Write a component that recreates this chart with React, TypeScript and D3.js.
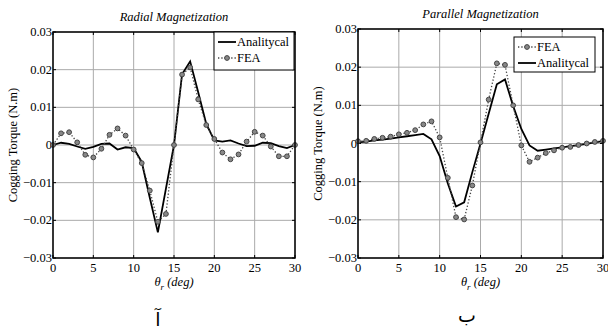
import React from "react";
import * as d3 from "d3";

// angle samples, degrees
const theta = d3.range(0, 31);

// Radial magnetization
const radialFEA = [
  0, 0.0031, 0.0034, 0.0007, -0.0026, -0.0033, -0.001, 0.0027, 0.0044, 0.0025,
  -0.0012, -0.0048, -0.0121, -0.0204, -0.0183, 0, 0.0187, 0.0206, 0.0121, 0.0053,
  0.0016, -0.002, -0.0038, -0.0025, 0.0009, 0.0035, 0.0025, -0.0004, -0.003, -0.003, 0,
];
const radialAnalytical = [
  0, 0.0006, 0.0003, -0.0004, -0.001, -0.0005, 0.0003, 0.0004, -0.0012, -0.0006,
  -0.0008, -0.0045, -0.014, -0.0232, -0.0116, 0, 0.0188, 0.0222, 0.014, 0.0056,
  0.0012, 0.0009, 0.0012, 0.0004, -0.0003, -0.0002, 0.0006, 0.0005, -0.0003, -0.0008, 0,
];

// Parallel magnetization
const parallelFEA = [
  0.0006, 0.0007, 0.0012, 0.0015, 0.0018, 0.0024, 0.0028, 0.0035, 0.005, 0.0058,
  0.0016, -0.009, -0.0193, -0.0199, -0.011, 0.0003, 0.0115, 0.021, 0.0206, 0.01,
  -0.0005, -0.0048, -0.0037, -0.0025, -0.0018, -0.0011, -0.0009, -0.0004, 0, 0.0004, 0.0007,
];
const parallelAnalytical = [
  0.0003, 0.0005, 0.0008, 0.001, 0.0013, 0.0016, 0.0019, 0.0022, 0.0025, 0.0011,
  -0.0033, -0.0105, -0.0165, -0.0154, -0.0075, 0, 0.0078, 0.0155, 0.0168, 0.0098,
  0.0038, -0.0005, -0.0019, -0.0016, -0.0013, -0.001, -0.0007, -0.0004, -0.0001, 0.0003, 0.0006,
];

const xTicks = [0, 5, 10, 15, 20, 25, 30];
const yTicks = [-0.03, -0.02, -0.01, 0, 0.01, 0.02, 0.03];

const FONT = "Liberation Serif, Times New Roman, serif";
const fs = { fontFamily: FONT };

interface IPanel {
  left: number;
  top: number;
  right: number;
  bottom: number;
  title: string;
  titleY: number;
  fea: number[];
  analytical: number[];
  feaFirst: boolean;
  legend: { x: number; y: number; w: number; h: number };
}

const Panel = (p: IPanel) => {
  const x = d3.scaleLinear().domain([0, 30]).range([p.left, p.right]);
  const y = d3.scaleLinear().domain([-0.03, 0.03]).range([p.bottom, p.top]);
  const line = d3
    .line<number>()
    .x((_, i) => x(theta[i]))
    .y((d) => y(d));
  const fmt = (v: number) => (v === 0 ? "0" : d3.format(".2f")(v));

  const entries = p.feaFirst ? ["FEA", "Analitycal"] : ["Analitycal", "FEA"];
  const lg = p.legend;

  return (
    <g>
      <text
        x={(p.left + p.right) / 2}
        y={p.titleY}
        textAnchor="middle"
        fontSize={12.5}
        fontStyle="italic"
        style={fs}
      >
        {p.title}
      </text>
      {/* grid */}
      {xTicks.map((t) => (
        <line key={"gx" + t} x1={x(t)} x2={x(t)} y1={p.top} y2={p.bottom} stroke="#aaa" strokeWidth={1} />
      ))}
      {yTicks.map((t) => (
        <line key={"gy" + t} x1={p.left} x2={p.right} y1={y(t)} y2={y(t)} stroke="#aaa" strokeWidth={1} />
      ))}
      {/* inner ticks */}
      {xTicks.map((t) => (
        <g key={"tx" + t}>
          <line x1={x(t)} x2={x(t)} y1={p.bottom} y2={p.bottom - 3} stroke="#000" />
          <line x1={x(t)} x2={x(t)} y1={p.top} y2={p.top + 3} stroke="#000" />
          <text x={x(t)} y={p.bottom + 14} textAnchor="middle" fontSize={12.5} style={fs}>
            {t}
          </text>
        </g>
      ))}
      {yTicks.map((t) => (
        <g key={"ty" + t}>
          <line x1={p.left} x2={p.left + 3} y1={y(t)} y2={y(t)} stroke="#000" />
          <line x1={p.right} x2={p.right - 3} y1={y(t)} y2={y(t)} stroke="#000" />
          <text x={p.left - 1} y={y(t) + 4} textAnchor="end" fontSize={12.5} style={fs}>
            {fmt(t)}
          </text>
        </g>
      ))}
      {/* series */}
      <path d={line(p.analytical) || ""} fill="none" stroke="#000" strokeWidth={1.8} />
      <path d={line(p.fea) || ""} fill="none" stroke="#444" strokeWidth={1.3} strokeDasharray="1.3,2" />
      {p.fea.map((v, i) => (
        <circle key={i} cx={x(theta[i])} cy={y(v)} r={2.4} fill="#888" stroke="#444" strokeWidth={1} />
      ))}
      {/* axes box */}
      <rect
        x={p.left}
        y={p.top}
        width={p.right - p.left}
        height={p.bottom - p.top}
        fill="none"
        stroke="#000"
        strokeWidth={1.5}
      />
      {/* legend */}
      <rect x={lg.x} y={lg.y} width={lg.w} height={lg.h} fill="#fff" stroke="#000" strokeWidth={1} />
      {entries.map((name, i) => {
        const cy = lg.y + 10 + i * 16;
        return (
          <g key={name}>
            {name === "FEA" ? (
              <g>
                <line x1={lg.x + 4} x2={lg.x + 22} y1={cy} y2={cy} stroke="#444" strokeWidth={1.3} strokeDasharray="1.3,2" />
                <circle cx={lg.x + 13} cy={cy} r={2.4} fill="#888" stroke="#444" />
              </g>
            ) : (
              <line x1={lg.x + 4} x2={lg.x + 22} y1={cy} y2={cy} stroke="#000" strokeWidth={1.8} />
            )}
            <text x={lg.x + 23} y={cy + 4} fontSize={12.5} style={fs}>
              {name}
            </text>
          </g>
        );
      })}
      {/* axis labels */}
      <text
        transform={`translate(${p.left - 36},${(p.top + p.bottom) / 2}) rotate(-90)`}
        textAnchor="middle"
        fontSize={12.5}
        style={fs}
      >
        Cogging Torque (N.m)
      </text>
      <text x={(p.left + p.right) / 2} y={p.bottom + 28} textAnchor="middle" fontSize={12.5} fontStyle="italic" style={fs}>
        <tspan>θ</tspan>
        <tspan fontSize={9} dy={4}>r</tspan>
        <tspan dy={-4}> (deg)</tspan>
      </text>
    </g>
  );
};

export default function App() {
  return (
    <svg width={608} height={332} style={{ position: "absolute", left: 0, top: 0, background: "#fff" }}>
      <rect width={608} height={332} fill="#fff" />
      <Panel
        left={53}
        right={295}
        top={32}
        bottom={258}
        title="Radial Magnetization"
        titleY={21}
        fea={radialFEA}
        analytical={radialAnalytical}
        feaFirst={false}
        legend={{ x: 214, y: 32, w: 80, h: 38 }}
      />
      <Panel
        left={358}
        right={603}
        top={29}
        bottom={258}
        title="Parallel Magnetization"
        titleY={18}
        fea={parallelFEA}
        analytical={parallelAnalytical}
        feaFirst={true}
        legend={{ x: 514, y: 37, w: 81, h: 35 }}
      />
      <text x={158} y={326} textAnchor="middle" fontSize={19} style={{ fontFamily: "DejaVu Sans" }}>
        آ
      </text>
      <text x={467} y={322} textAnchor="middle" fontSize={19} style={{ fontFamily: "DejaVu Sans" }}>
        ب
      </text>
    </svg>
  );
}
